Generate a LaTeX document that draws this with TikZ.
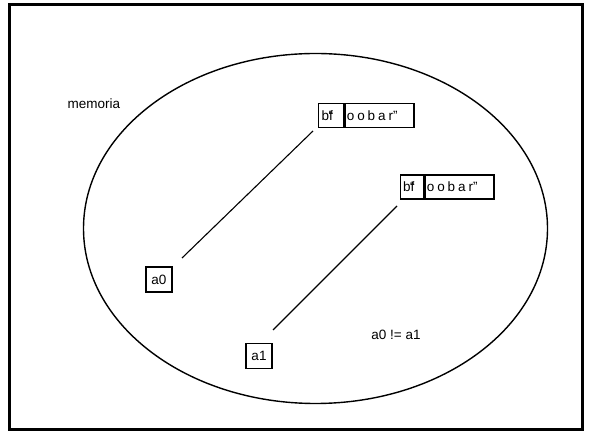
\documentclass[tikz,border=0pt]{standalone}
\usepackage{fontspec}
\setmainfont{Liberation Sans}
\newcommand{\spaced}[1]{\makebox[10.4pt][l]{#1}}
\newcommand{\headglyphs}{b\makebox[0pt][l]{\kern-0.5pt\char"201C}f}
\begin{document}
\begin{tikzpicture}[x=1pt,y=-1pt,
  lbl/.style={font=\fontsize{13.5}{14}\selectfont, inner sep=0pt},
  cell/.style={draw, line width=1.3pt, font=\fontsize{13.5}{14}\selectfont, inner sep=0pt, minimum height=24, anchor=west},
  var/.style={draw, line width=1.3pt, font=\fontsize{13.5}{14}\selectfont, inner sep=1pt, minimum height=25, minimum width=26},
  link/.style={line width=1.1pt}]
\useasboundingbox (0,0) rectangle (592,435);
% frame
\draw[line width=2.8pt] (9.5,4.5) rectangle (582.5,429.5);
% memory area
\draw[line width=1.4pt] (315.5,228.5) ellipse [x radius=232, y radius=175];
\node[lbl] (mem) at (94,104) {memoria};
% first string: head cell and remaining characters
\node[cell] (s0h) at (318,115.5) {\makebox[25pt][l]{\hspace{3pt}\headglyphs}};
\node[cell] (s0t) at (s0h.east) {\makebox[69pt][l]{\hspace{2pt}\spaced{o}\spaced{o}\spaced{b}\spaced{a}r\char"201D}};
% second string
\node[cell] (s1h) at (400,187) {\makebox[23pt][l]{\hspace{2.5pt}\headglyphs}};
\node[cell] (s1t) at (s1h.east) {\makebox[69pt][l]{\hspace{2pt}\spaced{o}\spaced{o}\spaced{b}\spaced{a}r\char"201D}};
% variables
\node[var] (a0) at (159,279.5) {a0};
\node[var] (a1) at (259,356) {a1};
\node[lbl] (neq) at (396,335) {a0 != a1};
% references
\coordinate (p0) at (182,258);
\coordinate (q0) at (313,131);
\coordinate (p1) at (273,330);
\coordinate (q1) at (397,206);
\draw[link] (p0) -- (q0);
\draw[link] (p1) -- (q1);
\end{tikzpicture}
\end{document}
